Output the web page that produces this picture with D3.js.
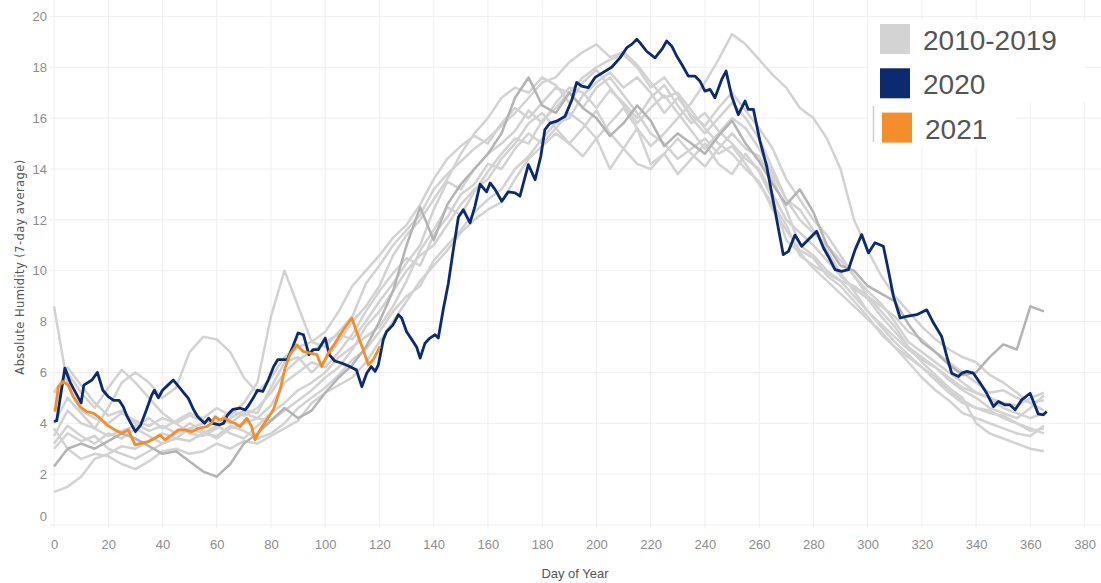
<!DOCTYPE html>
<html>
<head>
<meta charset="utf-8">
<script src="https://cdnjs.cloudflare.com/ajax/libs/d3/7.8.5/d3.min.js"></script>
<style>
body { margin: 0; background: #fff; }
.axis text { font-family: "Liberation Sans Narrow", "Liberation Sans", sans-serif; font-size: 13px; fill: #8c8c8c; }
.grid line { stroke: #eeeeee; stroke-width: 1; }
.legend text { font-family: "Liberation Sans", sans-serif; font-size: 28px; fill: #555; }
</style>
</head>
<body>
<svg class="chart" width="1101" height="583"></svg>
<script>
// x positions of the gray (2010-2019) readings, every 5 days
var grayDays = [0,5,10,15,20,25,30,35,40,45,50,55,60,65,70,75,80,85,90,95,100,105,110,115,120,125,130,135,140,145,150,155,160,165,170,175,180,185,190,195,200,205,210,215,220,225,230,235,240,245,250,255,260,265,270,275,280,285,290,295,300,305,310,315,320,325,330,335,340,345,350,355,360,365];

var grayA = [8.6,5.5,4.5,4.2,4.0,4.4,4.1,3.9,4.2,4.0,4.3,4.1,4.0,4.5,4.3,4.6,5.2,6.0,6.5,6.8,7.2,7.5,7.3,8.0,8.8,9.5,10.3,11.0,12.4,13.5,13.2,14.0,14.6,15.0,15.5,16.3,15.8,16.6,17.2,17.0,16.4,17.1,16.6,16.0,16.8,17.3,16.5,15.8,16.2,15.5,15.0,14.4,14.0,13.0,12.0,11.5,11.0,10.4,9.8,9.3,8.9,8.2,7.6,7.0,6.6,6.2,5.7,5.3,5.0,4.6,4.4,4.2,4.6,5.1];
var grayB = [1.3,1.5,1.9,2.6,2.8,3.1,3.0,3.3,3.6,3.4,3.8,3.6,3.5,3.9,3.7,3.4,3.6,4.0,4.6,5.0,5.4,5.9,6.5,6.9,7.6,8.4,9.0,9.4,10.4,11.0,11.6,12.3,12.8,13.2,14.0,14.5,15.2,15.8,16.0,16.9,17.4,17.8,17.2,17.6,17.0,16.2,16.8,16.1,15.7,16.4,17.0,16.3,15.6,14.8,13.6,12.8,12.0,11.4,10.6,9.8,9.0,8.4,7.8,7.0,6.4,5.9,5.4,5.0,4.0,3.6,3.4,3.2,3.0,2.9];
var grayC = [3.5,4.5,4.0,3.8,3.5,3.7,3.9,4.2,3.8,4.1,4.4,4.2,4.6,4.3,4.8,5.6,8.2,10.0,8.6,7.2,7.0,7.6,8.2,9.5,10.2,11.0,11.6,12.2,13.2,13.8,14.3,14.8,15.2,15.7,16.2,16.8,17.4,17.6,18.2,18.6,18.9,18.4,18.6,18.1,17.4,16.8,17.0,16.3,15.6,15.0,14.6,14.0,13.5,12.4,11.6,10.8,10.5,9.8,9.4,8.8,8.2,7.5,7.0,6.6,6.2,5.8,5.3,4.9,4.6,4.5,4.2,4.0,3.8,3.6];
var grayD = [4.5,6.2,5.5,4.8,4.3,4.5,4.0,3.7,3.9,3.6,3.8,4.0,4.2,4.0,4.4,4.2,4.7,5.6,6.0,6.4,6.2,6.8,7.5,8.4,9.2,9.9,10.5,10.2,11.4,12.1,13.0,13.4,14.2,14.0,14.8,15.4,15.0,15.6,16.2,15.8,15.2,15.8,16.4,15.6,14.9,15.4,16.0,16.6,17.4,18.3,19.3,18.9,18.3,17.7,17.2,16.4,16.0,15.2,14.0,12.0,10.8,9.8,9.0,8.4,7.8,7.3,6.9,6.6,6.4,5.9,5.6,5.2,4.8,4.5];
var grayE = [4.0,5.0,4.4,3.8,4.6,5.6,6.0,5.6,5.0,5.4,6.8,7.4,7.3,6.8,5.8,5.2,5.8,6.6,7.0,7.2,7.6,8.4,9.4,10.0,10.6,11.3,11.8,12.6,13.6,14.4,14.9,15.3,15.0,15.8,16.4,16.0,16.6,17.2,17.0,16.4,17.2,17.6,16.9,16.2,15.4,15.0,14.4,14.8,15.2,14.6,14.9,14.2,13.4,12.6,11.8,10.6,10.2,9.9,9.6,9.4,9.0,8.6,8.2,7.6,7.3,6.8,6.4,6.0,5.6,5.2,5.3,5.0,4.8,4.9];
var grayF = [3.0,3.6,3.3,3.5,3.0,2.8,2.6,2.9,3.2,3.4,3.3,3.6,3.9,3.6,3.4,3.9,4.4,4.8,5.3,5.6,6.0,6.6,7.0,7.4,7.8,8.6,9.6,10.8,11.6,12.5,12.2,13.1,13.9,14.6,15.2,15.0,15.9,16.4,17.0,17.6,18.0,18.3,18.5,18.0,17.2,17.6,16.9,16.0,15.4,16.0,16.6,16.0,15.2,14.0,12.8,12.4,11.6,10.8,9.9,9.2,8.4,7.8,7.2,6.7,6.2,5.7,5.2,4.8,4.6,4.4,4.3,4.0,3.7,3.8];
var grayG = [5.2,6.0,5.2,4.6,5.4,6.1,5.6,5.0,4.4,4.0,3.6,3.5,3.8,4.2,4.5,4.4,5.4,6.4,6.6,6.0,6.5,7.2,8.0,8.6,9.4,10.6,11.4,12.0,12.8,13.6,14.6,15.4,16.0,16.8,17.2,17.0,17.6,17.3,16.6,17.4,17.9,17.2,16.5,15.8,16.4,16.9,16.2,15.5,14.8,15.4,16.0,15.6,14.8,13.8,12.8,12.0,11.5,11.0,10.4,9.8,9.2,8.7,8.0,7.2,6.8,6.4,6.0,5.6,5.2,5.0,4.8,4.7,5.0,5.2];
var grayH = [3.8,3.0,2.6,2.8,2.7,2.4,2.2,2.5,2.9,3.0,2.8,2.9,3.2,3.0,3.3,3.2,3.5,3.8,4.1,4.8,5.2,5.5,5.8,6.4,7.2,8.0,8.8,9.6,10.2,10.8,11.5,12.0,12.4,12.7,13.6,14.4,14.9,15.4,15.0,14.5,15.2,14.0,14.8,15.6,14.2,14.6,13.8,14.4,15.0,14.2,13.8,14.6,13.9,12.8,11.2,10.7,10.1,9.6,9.1,8.6,8.1,7.6,7.0,6.4,5.8,5.3,4.9,4.4,4.2,4.0,3.8,3.6,3.5,3.9];
var grayI = [3.2,3.9,3.5,3.2,3.6,3.4,3.8,3.5,3.2,3.6,4.0,3.7,3.4,3.8,4.0,4.2,4.1,4.5,4.9,5.3,5.8,6.2,6.9,7.8,8.4,9.2,10.0,10.6,11.0,11.8,12.6,13.2,13.6,14.4,15.0,15.8,16.2,15.6,15.0,15.6,16.3,15.4,14.8,14.2,14.0,14.6,15.2,14.6,14.1,14.8,15.4,14.8,14.5,13.6,12.4,11.0,10.6,10.0,9.6,9.0,8.4,7.9,7.4,6.9,6.5,6.2,5.8,5.4,5.2,5.0,4.6,4.4,4.2,4.4];
// the one year that reads a little darker
var grayDark = [2.3,3.0,3.2,3.0,3.3,3.6,3.4,3.1,2.8,2.9,2.5,2.1,1.9,2.4,3.2,3.6,4.1,4.6,4.2,4.5,5.2,5.8,6.3,7.0,8.0,9.2,11.0,12.5,11.2,12.6,13.4,14.0,14.6,15.4,16.8,17.6,16.5,16.2,17.0,16.4,16.0,15.3,15.8,16.5,15.9,14.9,15.4,15.0,14.6,15.3,15.9,15.0,14.3,13.4,12.6,13.2,12.3,11.0,10.2,10.0,9.4,9.1,8.8,7.9,7.2,6.8,6.3,5.9,6.0,6.6,7.1,6.9,8.6,8.4];

var navyDays = [0,1,4,6,10,11,14,16,18,20,22,24,25.5,27,30,32,34,36,37,38.5,40,42,44,46,48,49.5,51.5,53,55.5,57,58.5,61,62.5,64,66,68.5,70.5,71.5,73.5,75,77,79,81,82.5,86,88,90,92,94,95.5,97.5,100,101.5,103.5,106,109,111.5,113.5,115.3,117,118.4,119.6,121.4,122.6,125,127,128.2,130,132,133.7,135,136.8,138.6,140.5,141.7,143.5,145.4,147.2,149.1,150.9,153.4,155.2,157.1,159.5,160.8,162.6,165.1,167.5,170,171.8,174.9,177.4,179.5,181,182.9,185.3,188.4,190.9,192.7,194.6,197,199.5,202.5,205.6,208.7,211.2,213,214.9,216.1,218.5,221.6,224.1,225.9,227.8,229.6,231.5,233.9,236.4,238.2,240,241.9,243.7,246.2,247.8,249.9,252.3,254.8,256,257.9,260.3,262.8,265.8,268.9,270.8,273.2,275.7,278.1,281.2,283.7,285.5,288,290.4,292.9,295.4,297.8,300.3,302.7,305.8,307.6,309.5,312,314.4,318.1,321.8,324.3,327.3,329.2,331,333.5,334.7,336.6,339,341.5,343.9,346.4,348.2,350.7,352.5,354.4,356.8,359.9,361.1,362.9,364.8,366];
var navyVals = [4.07,4.1,6.17,5.6,4.8,5.5,5.7,6.0,5.3,5.05,4.9,4.9,4.66,4.26,3.67,3.94,4.5,5.1,5.3,5.0,5.3,5.5,5.7,5.44,5.18,4.99,4.53,4.26,4.0,4.2,4.0,3.94,4.0,4.33,4.55,4.6,4.53,4.66,5.0,5.3,5.25,5.7,6.23,6.5,6.5,7.0,7.55,7.48,6.7,6.9,6.9,7.35,6.7,6.45,6.37,6.23,6.1,5.44,5.97,6.23,6.04,6.3,7.28,7.6,7.87,8.27,8.14,7.6,7.28,7.0,6.56,7.15,7.35,7.48,7.35,8.46,9.5,10.8,12.1,12.4,11.88,12.53,13.4,13.1,13.45,13.2,12.73,13.1,13.06,12.93,14.17,13.58,14.5,15.55,15.8,15.88,16.07,16.7,17.4,17.26,17.2,17.6,17.8,18.0,18.37,18.77,18.9,19.1,18.96,18.63,18.37,18.7,19.03,18.83,18.44,18.11,17.65,17.65,17.45,17.06,17.13,16.8,17.52,17.85,16.86,16.14,16.67,16.34,16.34,15.1,14.1,12.4,10.63,10.76,11.4,10.96,11.22,11.55,10.9,10.56,10.04,9.97,10.04,10.83,11.42,10.7,11.1,10.96,10.04,9.0,8.14,8.2,8.27,8.46,7.94,7.41,6.63,5.97,5.84,5.97,6.04,5.97,5.58,5.18,4.66,4.86,4.72,4.72,4.53,4.92,5.18,4.86,4.37,4.33,4.46];

var orangeDays = [0.4,1.6,3.4,5.3,7.1,9.6,12,14.5,17,19.4,22.5,25,27.4,29.9,32.3,34.8,37.2,39.1,40.9,43.4,45.8,48.3,50.8,53.2,56.3,58.1,59.4,61.2,63.1,64.9,66.7,68.6,71.1,72.9,74.1,76,78.4,80.9,83.3,85.2,87,89.5,91.9,94.4,96.9,98.7,101.1,103.6,106.7,109.8,112.2,114,115.9,117.7,119,120.2];
var orangeVals = [4.46,5.44,5.64,5.5,5.05,4.66,4.46,4.4,4.2,3.94,3.74,3.61,3.74,3.15,3.22,3.28,3.41,3.54,3.35,3.54,3.74,3.74,3.67,3.8,3.87,4.0,4.26,4.13,4.2,4.07,4.0,3.87,4.2,3.87,3.35,3.74,4.13,4.53,5.3,6.17,6.7,7.09,6.82,6.76,6.7,6.23,6.76,7.15,7.68,8.14,7.41,6.89,6.3,6.5,6.76,7.02];

var xTicks = [0,20,40,60,80,100,120,140,160,180,200,220,240,260,280,300,320,340,360,380];
var yTicks = [0,2,4,6,8,10,12,14,16,18,20];

var legendLabels = ['2010-2019', '2020', '2021'];
var legendColors = ['#d3d3d3', '#0b2a6f', '#f28e2b'];

var svg = d3.select('.chart');

var x = d3.scaleLinear().domain([0, 380]).range([54, 1084.6]);
var y = d3.scaleLinear().domain([0, 20]).range([525, 16.4]);

//Grid
svg.append('g')
.attr('class', 'grid')
.selectAll('line.v')
.data(xTicks)
.enter().append('line')
.attr('x1', function(d) { return x(d); })
.attr('x2', function(d) { return x(d); })
.attr('y1', 0)
.attr('y2', 528);

svg.append('g')
.attr('class', 'grid')
.selectAll('line.h')
.data(yTicks)
.enter().append('line')
.attr('x1', 50)
.attr('x2', 1101)
.attr('y1', function(d) { return y(d); })
.attr('y2', function(d) { return y(d); });

//Axes
var xAxis = svg.append('g')
.attr('class', 'axis')
.attr('transform', 'translate(' + [0, 528] + ')')
.call(d3.axisBottom(x).tickValues(xTicks).tickSize(0).tickPadding(12));
xAxis.select('.domain').remove();

var yAxis = svg.append('g')
.attr('class', 'axis')
.attr('transform', 'translate(' + [54, 0] + ')')
.call(d3.axisLeft(y).tickValues(yTicks).tickSize(0).tickPadding(7));
yAxis.select('.domain').remove();
// tableau nudges the bottom label up
yAxis.selectAll('.tick text')
.filter(function(d) { return d == 0; })
.attr('dy', '-0.35em');

svg.append('text')
.text('Day of Year')
.attr('x', 575)
.attr('y', 578)
.attr('text-anchor', 'middle')
.style('font-family', '"Liberation Sans Narrow", "Liberation Sans", sans-serif')
.style('font-size', '13px')
.style('fill', '#555');

svg.append('text')
.text('Absolute Humidity (7-day average)')
.attr('transform', 'translate(' + [24, 267] + ') rotate(-90)')
.attr('text-anchor', 'middle')
.style('font-family', '"DejaVu Sans", sans-serif')
.style('font-size', '11.5px')
.style('letter-spacing', '0.4px')
.style('fill', '#555');

//Lines
var line = d3.line()
.x(function(d) { return x(d[0]); })
.y(function(d) { return y(d[1]); });

function pairs(days, vals) {
  return days.map(function(d, i) { return [d, vals[i]]; });
}

var grays = [grayA, grayB, grayC, grayD, grayE, grayF, grayG, grayH, grayI];

svg.append('g')
.selectAll('path')
.data(grays)
.enter().append('path')
.attr('d', function(d) { return line(pairs(grayDays, d)); })
.attr('fill', 'none')
.attr('stroke', '#d2d2d2')
.attr('stroke-width', 2.5)
.attr('stroke-linejoin', 'round');

svg.append('path')
.attr('d', line(pairs(grayDays, grayDark)))
.attr('fill', 'none')
.attr('stroke', '#b3b3b3')
.attr('stroke-width', 2.5)
.attr('stroke-linejoin', 'round');

svg.append('path')
.attr('d', line(pairs(navyDays, navyVals)))
.attr('fill', 'none')
.attr('stroke', '#0b2a6f')
.attr('stroke-width', 2.8)
.attr('stroke-linejoin', 'round');

svg.append('path')
.attr('d', line(pairs(orangeDays, orangeVals)))
.attr('fill', 'none')
.attr('stroke', '#f28e2b')
.attr('stroke-width', 2.8)
.attr('stroke-linejoin', 'round');

//Legend box (white patch over the grid)
svg.append('rect')
.attr('x', 868).attr('y', 20).attr('width', 217).attr('height', 82)
.attr('fill', '#fff');
svg.append('rect')
.attr('x', 868).attr('y', 100).attr('width', 148).attr('height', 47)
.attr('fill', '#fff');
svg.append('line')
.attr('x1', 873.5).attr('x2', 873.5).attr('y1', 106).attr('y2', 142)
.attr('stroke', '#cccccc').attr('stroke-width', 1.5);

var legend = svg.append('g')
.attr('class', 'legend')
.attr('transform', 'translate(' + [880, 24] + ')');

var items = legend.selectAll('g')
.data(legendLabels)
.enter().append('g')
.attr('transform', function(d, i) { return 'translate(' + [i == 2 ? 2 : 0, i * 44.3] + ')'; });

items.append('rect')
.attr('width', 30)
.attr('height', 30)
.attr('fill', function(d, i) { return legendColors[i]; });

items.append('text')
.attr('x', 43)
.attr('y', 26)
.text(function(d) { return d; });
</script>
</body>
</html>
